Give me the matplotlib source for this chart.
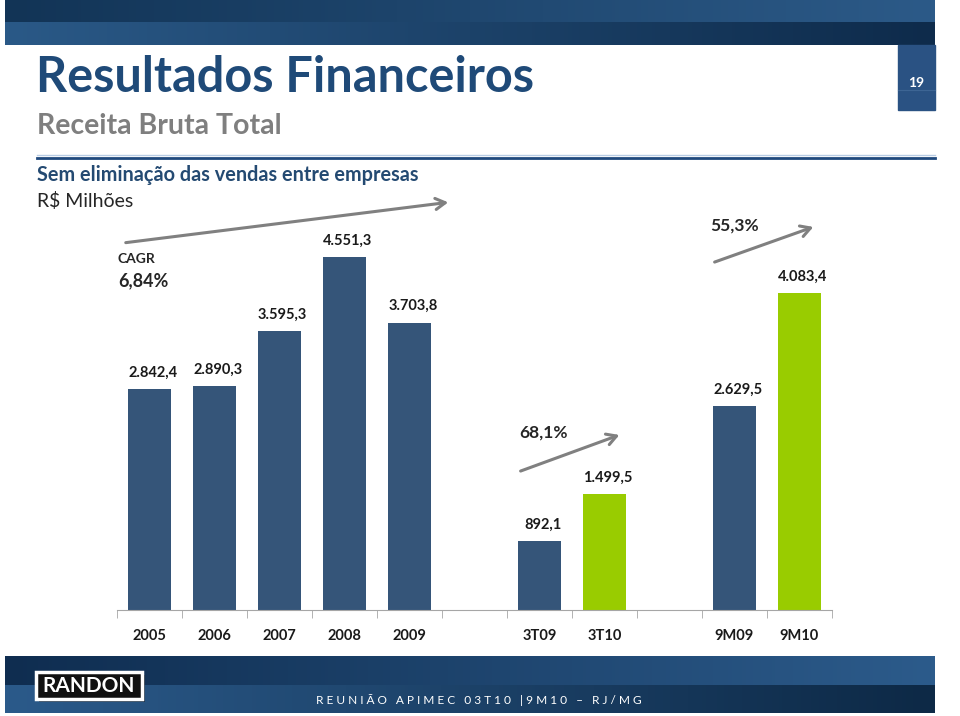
"""
Receita Bruta Total - Resultados Financeiros (slide 19).
"""

import numpy as np
import matplotlib
matplotlib.use("Agg")
import matplotlib.pyplot as plt
from matplotlib.patches import Rectangle, FancyArrowPatch
from matplotlib.colors import LinearSegmentedColormap

plt.rcParams["font.family"] = ["Lato", "DejaVu Sans"]

categories = ["2005", "2006", "2007", "2008", "2009", "",
              "3T09", "3T10", "", "9M09", "9M10"]
values = [2842.4, 2890.3, 3595.3, 4551.3, 3703.8, None,
          892.1, 1499.5, None, 2629.5, 4083.4]
labels = ["2.842,4", "2.890,3", "3.595,3", "4.551,3", "3.703,8", "",
          "892,1", "1.499,5", "", "2.629,5", "4.083,4"]
is_current = [False, False, False, False, False, False,
              False, True, False, False, True]

BLUE = "#355579"
GREEN = "#99CC00"
TITLE_BLUE = "#1F4A78"
ARROW_GRAY = "#808080"

W, H = 960, 716
fig = plt.figure(figsize=(W / 100, H / 100), dpi=100)

# background axes in pixel coordinates
bg = fig.add_axes([0, 0, 1, 1])
bg.axis("off")


def band(ax, x0, x1, y0, y1, c_left, c_right):
    grad = np.linspace(0, 1, 256).reshape(1, -1)
    cmap = LinearSegmentedColormap.from_list("g", [c_left, c_right])
    ax.imshow(grad, extent=(x0, x1, y1, y0), cmap=cmap, aspect="auto",
              zorder=1)


# header
band(bg, 5, 935, 0, 22, "#123456", "#2C5A88")
band(bg, 5, 935, 22, 45, "#2A5987", "#0E2B4B")
# page number tab
bg.add_patch(Rectangle((898, 45), 37, 65, color="#2A5283", zorder=2))
bg.plot([898, 935], [90, 90], color="#3D6594", lw=0.8, zorder=3)
bg.text(916.5, 83, "19", color="white", fontsize=10, fontweight="bold",
        ha="center", va="center", zorder=4)

# titles
bg.text(36, 77, "Resultados Financeiros", color=TITLE_BLUE, fontsize=35,
        fontweight="bold", ha="left", va="center")
bg.text(37, 126, "Receita Bruta Total", color="#7F7F7F", fontsize=20.5,
        fontweight="bold", ha="left", va="center")
bg.plot([37, 935], [155, 155], color="#B8CCE4", lw=1)
bg.plot([37, 935], [158, 158], color="#1F497D", lw=2)
bg.text(37, 175, "Sem eliminação das vendas entre empresas", color="#244A72",
        fontsize=14.3, fontweight="bold", ha="left", va="center")
bg.text(37, 201, "R$ Milhões", color="#262626", fontsize=14,
        ha="left", va="center")

# footer
band(bg, 5, 935, 656, 685, "#0F2D50", "#2C5B8B")
band(bg, 5, 935, 685, 713, "#2B5A8A", "#0D2946")
bg.add_patch(Rectangle((39, 675), 106, 27, facecolor="#0A0A0A",
                       edgecolor="none", alpha=0.5, zorder=2))
bg.add_patch(Rectangle((36, 672), 106, 27, facecolor="#111111",
                       edgecolor="white", lw=2.5, zorder=3))
bg.text(89, 685.5, "RANDON", color="white", fontsize=15, fontweight="bold",
        ha="center", va="center", zorder=4)
bg.text(479, 700, "R E U N I Ã O   A P I M E C   0 3 T 1 0   | 9 M 1 0   –   R J / M G",
        color="white", fontsize=8.6, ha="center", va="center", zorder=4)

bg.set_xlim(0, W)
bg.set_ylim(H, 0)

# annotations: CAGR and growth arrows
bg.text(118, 259, "CAGR", color="#262626", fontsize=10, fontweight="bold",
        ha="left", va="center")
bg.text(118, 281, "6,84%", color="#262626", fontsize=13, fontweight="bold",
        ha="left", va="center")
bg.text(735, 226, "55,3%", color="#262626", fontsize=12.5, fontweight="bold",
        ha="center", va="center")
bg.text(543, 433, "68,1%", color="#262626", fontsize=12.5, fontweight="bold",
        ha="center", va="center")
for (x0, y0), (x1, y1) in [((123, 243), (451, 202)),
                           ((712, 263), (816, 226)),
                           ((518, 472), (622, 434))]:
    bg.add_patch(FancyArrowPatch((x0, y0), (x1, y1),
                                 arrowstyle="->,head_length=7,head_width=4",
                                 color=ARROW_GRAY, lw=2.2, zorder=3))

# chart axes
ax = fig.add_axes([117 / W, (H - 610) / H, 715 / W, 410 / H])
ax.patch.set_alpha(0)
x = np.arange(len(categories))
for i, v in enumerate(values):
    if v is None:
        continue
    ax.bar(x[i], v, width=0.65, color=GREEN if is_current[i] else BLUE,
           zorder=2)
    ax.text(x[i] + 0.05, v + 120, labels[i], ha="center", va="bottom",
            fontsize=10.5, fontweight="bold", color="#1A1A1A")

ax.set_xlim(-0.5, len(categories) - 0.5)
ax.set_ylim(0, 410 / 0.0776)
for s in ["top", "right", "left"]:
    ax.spines[s].set_visible(False)
ax.spines["bottom"].set_color("#A6A6A6")
ax.set_yticks([])
ax.set_xticks(x)
ax.set_xticklabels(categories, fontsize=10.5, fontweight="bold",
                   color="#1A1A1A")
ax.tick_params(axis="x", which="major", length=0, pad=14)
ax.set_xticks(np.arange(-0.5, len(categories)), minor=True)
ax.tick_params(axis="x", which="minor", length=6, color="#A6A6A6")

fig.savefig("out.png", dpi=100)
